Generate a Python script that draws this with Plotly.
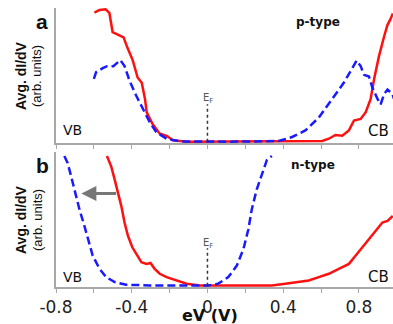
import plotly.graph_objects as go

# ---- data (panel a: p-type) ----
a_red_x = [-0.597, -0.57, -0.538, -0.518, -0.501, -0.475, -0.443, -0.422, -0.395, -0.369, -0.347,
           -0.33, -0.321, -0.289, -0.252, -0.215, -0.183, -0.109, 0.0, 0.2, 0.4, 0.606, 0.641, 0.676,
           0.712, 0.747, 0.774, 0.809, 0.836, 0.862, 0.88, 0.906, 0.933, 0.951, 0.968, 0.979]
a_red_y = [0.965, 0.985, 0.99, 0.963, 0.82, 0.80, 0.78, 0.70, 0.61, 0.48, 0.44,
           0.32, 0.22, 0.13, 0.06, 0.044, 0.01, 0.0, 0.0, 0.0, 0.002, 0.005, 0.022, 0.05,
           0.045, 0.084, 0.158, 0.17, 0.22, 0.32, 0.467, 0.64, 0.787, 0.874, 0.92, 0.96]

a_blue_x = [-0.60, -0.588, -0.553, -0.53, -0.497, -0.46, -0.438, -0.411, -0.376, -0.34, -0.305,
            -0.27, -0.216, -0.146, -0.05, 0.1, 0.25, 0.376, 0.447, 0.517, 0.588, 0.659, 0.72,
            0.765, 0.788, 0.809, 0.827, 0.853, 0.871, 0.898, 0.915, 0.933, 0.951, 0.977, 0.985]
a_blue_y = [0.47, 0.52, 0.55, 0.565, 0.565, 0.61, 0.565, 0.454, 0.343, 0.244, 0.146,
            0.07, 0.022, 0.002, 0.0, 0.0, 0.002, 0.005, 0.035, 0.084, 0.18, 0.32, 0.44,
            0.55, 0.607, 0.565, 0.50, 0.487, 0.405, 0.32, 0.28, 0.355, 0.39, 0.355, 0.32]

# ---- data (panel b: n-type) ----
b_blue_x = [-0.756, -0.738, -0.72, -0.703, -0.676, -0.65, -0.632, -0.606, -0.57, -0.535, -0.49,
            -0.43, -0.305, -0.15, 0.004, 0.057, 0.11, 0.155, 0.19, 0.216, 0.234, 0.26, 0.288,
            0.314, 0.34]
b_blue_y = [0.97, 0.916, 0.817, 0.719, 0.570, 0.447, 0.348, 0.224, 0.126, 0.064, 0.027,
            0.007, 0.002, 0.004, 0.002, 0.015, 0.064, 0.150, 0.274, 0.422, 0.570, 0.719, 0.842,
            0.941, 0.97]

b_red_x = [-0.531, -0.508, -0.49, -0.473, -0.455, -0.438, -0.42, -0.397, -0.376, -0.349, -0.322,
           -0.301, -0.279, -0.252, -0.216, -0.163, -0.11, -0.04, 0.1, 0.25, 0.34, 0.411, 0.464,
           0.535, 0.588, 0.641, 0.694, 0.747, 0.782, 0.818, 0.853, 0.88, 0.906, 0.924, 0.951,
           0.968, 0.979]
b_red_y = [0.97, 0.891, 0.793, 0.694, 0.595, 0.472, 0.373, 0.287, 0.237, 0.176, 0.163,
           0.170, 0.126, 0.089, 0.064, 0.039, 0.015, 0.002, 0.0, 0.0, 0.002, 0.015, 0.027,
           0.039, 0.064, 0.089, 0.126, 0.163, 0.224, 0.287, 0.348, 0.398, 0.447, 0.472, 0.484,
           0.509, 0.521]

tick_vals = [-0.8, -0.6, -0.4, -0.2, 0.0, 0.2, 0.4, 0.6, 0.8]
tick_text = ["-0.8", "", "-0.4", "", "0", "", "0.4", "", "0.8"]
ef_line_x = [0, 0]
ef_line_y = [0, 0.28]
arrow_start = (-0.475, 0.689)
arrow_end = (-0.666, 0.689)

RED = "#ff1010"
BLUE = "#1a1aff"
AX = "#a8a8a8"

fig = go.Figure()
fig.add_trace(go.Scatter(x=a_red_x, y=a_red_y, mode="lines", line=dict(color=RED, width=2.5),
                         xaxis="x", yaxis="y", showlegend=False))
fig.add_trace(go.Scatter(x=a_blue_x, y=a_blue_y, mode="lines",
                         line=dict(color=BLUE, width=2.5, dash="8px,4px"),
                         xaxis="x", yaxis="y", showlegend=False))
fig.add_trace(go.Scatter(x=ef_line_x, y=ef_line_y, mode="lines",
                         line=dict(color="#333", width=1.5, dash="dot"),
                         xaxis="x", yaxis="y", showlegend=False))
fig.add_trace(go.Scatter(x=b_red_x, y=b_red_y, mode="lines", line=dict(color=RED, width=2.5),
                         xaxis="x2", yaxis="y2", showlegend=False))
fig.add_trace(go.Scatter(x=b_blue_x, y=b_blue_y, mode="lines",
                         line=dict(color=BLUE, width=2.5, dash="8px,4px"),
                         xaxis="x2", yaxis="y2", showlegend=False))
fig.add_trace(go.Scatter(x=ef_line_x, y=ef_line_y, mode="lines",
                         line=dict(color="#333", width=1.5, dash="dot"),
                         xaxis="x2", yaxis="y2", showlegend=False))

xcommon = dict(range=[-0.8, 0.98], showgrid=False, zeroline=False, showline=True,
               linecolor=AX, linewidth=1.5, ticks="outside", ticklen=4, tickcolor=AX,
               tickwidth=1, tickvals=tick_vals, ticktext=tick_text,
               tickfont=dict(family="DejaVu Sans", size=17, color="#222"))
ycommon = dict(range=[-0.01, 1.0], showgrid=False, zeroline=False, showline=True,
               linecolor=AX, linewidth=1.5, showticklabels=False, ticks="")

H = 279.0
def py(p):  # pixel from top -> paper coordinate
    return (287 - p) / H

fig.update_layout(
    width=393, height=324,
    margin=dict(l=56, r=0, t=8, b=37),
    paper_bgcolor="white", plot_bgcolor="white",
    xaxis=dict(**xcommon, anchor="y", showticklabels=False),
    yaxis=dict(**ycommon, domain=[py(143), 1.0], anchor="x"),
    xaxis2=dict(**xcommon, anchor="y2"),
    yaxis2=dict(**ycommon, domain=[0.0, py(152)], anchor="x2"),
)

ann = []
def txt(text, x, y, size, bold=False, color="#222", family="DejaVu Sans", angle=0):
    ann.append(dict(text=f"<b>{text}</b>" if bold else text, x=x, y=y, xref="paper", yref="paper",
                    showarrow=False, font=dict(size=size, color=color, family=family),
                    textangle=angle, xanchor="center", yanchor="middle"))

def px_x(p):  # pixel from left -> paper x
    return (p - 56) / 337.0

txt("a", px_x(42), py(21), 21, bold=True, color="#111", family="Liberation Sans")
txt("b", px_x(42), py(165), 21, bold=True, color="#111", family="Liberation Sans")
txt("p-type", px_x(318), py(22), 12, bold=True, color="#111")
txt("n-type", px_x(313), py(165), 12, bold=True, color="#111")
txt("VB", px_x(72), py(130), 14, color="#111")
txt("CB", px_x(378), py(131), 15, color="#111")
txt("VB", px_x(72), py(277), 14, color="#111")
txt("CB", px_x(378), py(277), 15, color="#111")
txt("E<sub>F</sub>", px_x(208), py(99), 10, color="#555")
txt("E<sub>F</sub>", px_x(208), py(243), 10, color="#555")
for yc in (76, 220):
    txt("Avg. dI/dV", px_x(21), py(yc), 14, bold=True, color="#111", family="Liberation Sans", angle=-90)
    txt("(arb. units)", px_x(37), py(yc), 13, color="#111", family="Liberation Sans", angle=-90)
txt("eV (V)", px_x(210), py(315), 16, bold=True, color="#111")

ann.append(dict(x=arrow_end[0], y=arrow_end[1], ax=arrow_start[0], ay=arrow_start[1],
                xref="x2", yref="y2", axref="x2", ayref="y2", showarrow=True, text="",
                arrowhead=2, arrowsize=1, arrowwidth=3, arrowcolor="#777"))

fig.update_layout(annotations=ann)
fig.write_html("out.html", config={"displayModeBar": False},
               post_script="document.body.style.margin='0';document.body.style.overflow='hidden';")
